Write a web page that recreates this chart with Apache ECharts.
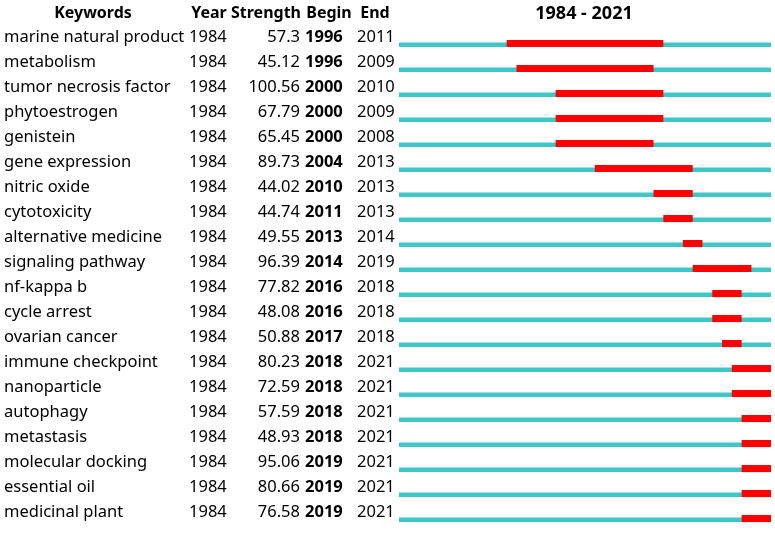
<!DOCTYPE html>
<html>
<head>
<meta charset="utf-8">
<script src="https://cdn.jsdelivr.net/npm/echarts@6/dist/echarts.min.js"></script>
<style>
  html, body { margin: 0; padding: 0; background: #fff; }
  #chart { width: 775px; height: 535px; }
</style>
</head>
<body>
<div id="chart"></div>
<script>
// table columns
var keywords = ['marine natural product', 'metabolism', 'tumor necrosis factor', 'phytoestrogen',
  'genistein', 'gene expression', 'nitric oxide', 'cytotoxicity', 'alternative medicine',
  'signaling pathway', 'nf-kappa b', 'cycle arrest', 'ovarian cancer', 'immune checkpoint',
  'nanoparticle', 'autophagy', 'metastasis', 'molecular docking', 'essential oil', 'medicinal plant'];
var years = [1984, 1984, 1984, 1984, 1984, 1984, 1984, 1984, 1984, 1984,
  1984, 1984, 1984, 1984, 1984, 1984, 1984, 1984, 1984, 1984];
var strengths = ['57.3', '45.12', '100.56', '67.79', '65.45', '89.73', '44.02', '44.74', '49.55', '96.39',
  '77.82', '48.08', '50.88', '80.23', '72.59', '57.59', '48.93', '95.06', '80.66', '76.58'];
var begins = [1996, 1996, 2000, 2000, 2000, 2004, 2010, 2011, 2013, 2014,
  2016, 2016, 2017, 2018, 2018, 2018, 2018, 2019, 2019, 2019];
var ends = [2011, 2009, 2010, 2009, 2008, 2013, 2013, 2013, 2014, 2019,
  2018, 2018, 2018, 2021, 2021, 2021, 2021, 2021, 2021, 2021];

// red bursts as drawn in the picture, [from, to) in years
var burstFrom = [1995, 1996, 2000, 2000, 2000, 2004, 2010, 2011, 2013, 2014,
  2016, 2016, 2017, 2018, 2018, 2019, 2019, 2019, 2019, 2019];
var burstTo = [2011, 2010, 2011, 2011, 2010, 2014, 2014, 2014, 2015, 2020,
  2019, 2019, 2019, 2022, 2022, 2022, 2022, 2022, 2022, 2022];

var firstYear = 1984, lastYear = 2022;
var font = '"Noto Sans", sans-serif';
var fs = 16.5;

var chart = echarts.init(document.getElementById('chart'));

var rows = keywords.map(function (k, i) { return [i]; });

function textEl(x, y, str, align, bold, size) {
  return {
    type: 'text',
    style: {
      x: x, y: y, text: str, fill: '#000',
      font: (bold ? 'bold ' : '') + (size || fs) + 'px ' + font,
      align: align, verticalAlign: 'middle'
    }
  };
}

chart.setOption({
  animation: false,
  grid: { left: 399, right: 4, top: 25.5, height: 500 },
  xAxis: { type: 'value', min: firstYear, max: lastYear, show: false },
  yAxis: { type: 'category', data: keywords, inverse: true, show: false },
  graphic: [
    textEl(93, 13, 'Keywords', 'center', true, 16),
    textEl(209, 13, 'Year', 'center', true, 16),
    textEl(266, 13, 'Strength', 'center', true, 16),
    textEl(329, 13, 'Begin', 'center', true, 16),
    textEl(375, 13, 'End', 'center', true, 16),
    textEl(584, 14, firstYear + ' - ' + (lastYear - 1), 'center', true, 18)
  ],
  series: [
    {
      // table text
      type: 'custom',
      data: rows,
      renderItem: function (params, api) {
        var i = api.value(0);
        var y = api.coord([firstYear, i])[1] - 1;
        return {
          type: 'group',
          children: [
            textEl(4, y, keywords[i], 'left', false),
            textEl(189, y, String(years[i]), 'left', false),
            textEl(300, y, strengths[i], 'right', false),
            textEl(305, y, String(begins[i]), 'left', true),
            textEl(357, y, String(ends[i]), 'left', false)
          ]
        };
      }
    },
    {
      // timeline and burst
      type: 'custom',
      data: rows,
      renderItem: function (params, api) {
        var i = api.value(0);
        var s = api.coord([firstYear, i]);
        var e = api.coord([lastYear, i]);
        var b0 = api.coord([burstFrom[i], i]);
        var b1 = api.coord([burstTo[i], i]);
        return {
          type: 'group',
          children: [
            { type: 'rect', shape: { x: s[0], y: s[1] + 4.5, width: e[0] - s[0], height: 4.6 },
              style: { fill: '#3FC6C6' } },
            { type: 'rect', shape: { x: b0[0], y: s[1] + 2, width: b1[0] - b0[0], height: 7.1 },
              style: { fill: '#FF0000' } }
          ]
        };
      }
    }
  ]
});
</script>
</body>
</html>
